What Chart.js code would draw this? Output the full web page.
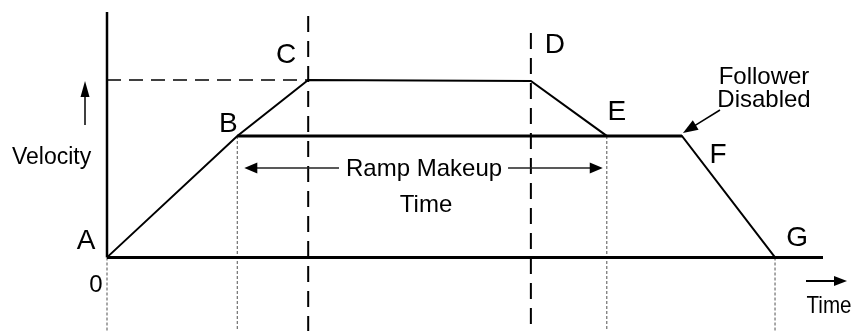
<!DOCTYPE html>
<html>
<head>
<meta charset="utf-8">
<script src="https://cdn.jsdelivr.net/npm/chart.js@4.4.1/dist/chart.umd.min.js"></script>
<style>
  html, body { margin: 0; padding: 0; background: #fff; }
  #wrap { width: 857px; height: 331px; }
</style>
</head>
<body>
<div id="wrap"><canvas id="chart" width="857" height="331"></canvas></div>
<script>
// profile points (time 0..100, velocity 0..100)
const pointNames = ["A", "B", "C", "D", "E", "F", "G"];
const pointTime = [0, 18.2, 28.1, 59.2, 69.8, 80.3, 93.3];
const pointVel = [0, 49.5, 72.3, 71.9, 49.5, 49.5, 0];

// axis extents
const timeMax = 100;
const velMax = 100;
const velMin = -30;

// top ends of the dashed C / D markers
const cLineTop = 98.4;
const dLineTop = 91.4;

const FONT = "'Liberation Sans', Arial, Helvetica, sans-serif";

function pts(idx) {
  return idx.map((i) => ({ x: pointTime[i], y: pointVel[i] }));
}

function seg(x1, y1, x2, y2) {
  return [{ x: x1, y: y1 }, { x: x2, y: y2 }];
}

const base = {
  showLine: true,
  pointRadius: 0,
  fill: false,
  clip: false,
  tension: 0,
  borderColor: "#000",
  borderJoinStyle: "miter",
};

const datasets = [
  // axes
  { ...base, data: seg(0, 0, timeMax, 0), borderWidth: 3 },
  { ...base, data: seg(0, 0, 0, velMax), borderWidth: 2.5 },
  // master profile A-B-C-D-E-F-G
  { ...base, data: pts([0, 1, 2, 3, 4, 5, 6]), borderWidth: 2 },
  // follower plateau B..F
  { ...base, data: pts([1, 5]), borderWidth: 3 },
  // dashed references
  { ...base, data: seg(0, pointVel[2], pointTime[2], pointVel[2]), borderWidth: 1.6, borderDash: [14, 8] },
  { ...base, data: seg(pointTime[2], cLineTop, pointTime[2], velMin), borderWidth: 2, borderDash: [16, 9] },
  { ...base, data: seg(pointTime[3], dLineTop, pointTime[3], velMin), borderWidth: 2, borderDash: [16, 9] },
  // dotted drop lines
  ...[0, 1, 4, 6].map((i) => ({
    ...base,
    data: seg(pointTime[i], pointVel[i], pointTime[i], velMin),
    borderWidth: 1.2,
    borderColor: "#6f6f6f",
    borderDash: [3, 2],
  })),
];

// label offsets in px from each point (center x, baseline y)
const labelOffsets = [
  [-21, -8], [-9, -4], [-22, -17], [24, -28], [10, -16], [36, 27], [22, -11],
];

function arrowHead(ctx, x1, y1, x2, y2, len, half) {
  const a = Math.atan2(y2 - y1, x2 - x1);
  ctx.beginPath();
  ctx.moveTo(x2, y2);
  ctx.lineTo(x2 - len * Math.cos(a) + half * Math.sin(a), y2 - len * Math.sin(a) - half * Math.cos(a));
  ctx.lineTo(x2 - len * Math.cos(a) - half * Math.sin(a), y2 - len * Math.sin(a) + half * Math.cos(a));
  ctx.closePath();
  ctx.fill();
}

function arrow(ctx, x1, y1, x2, y2, w, len, half) {
  const a = Math.atan2(y2 - y1, x2 - x1);
  ctx.lineWidth = w;
  ctx.beginPath();
  ctx.moveTo(x1, y1);
  ctx.lineTo(x2 - len * 0.8 * Math.cos(a), y2 - len * 0.8 * Math.sin(a));
  ctx.stroke();
  arrowHead(ctx, x1, y1, x2, y2, len, half);
}

const annotations = {
  id: "annotations",
  afterDatasetsDraw(chart) {
    const ctx = chart.ctx;
    const xs = chart.scales.x;
    const ys = chart.scales.y;
    const px = (i) => xs.getPixelForValue(pointTime[i]);
    const py = (i) => ys.getPixelForValue(pointVel[i]);
    ctx.save();
    ctx.fillStyle = "#000";
    ctx.strokeStyle = "#000";
    ctx.textBaseline = "alphabetic";

    // point letters
    ctx.font = "28px " + FONT;
    ctx.textAlign = "center";
    pointNames.forEach((n, i) => {
      ctx.fillText(n, px(i) + labelOffsets[i][0], py(i) + labelOffsets[i][1]);
    });

    // axis texts
    ctx.font = "23px " + FONT;
    ctx.textAlign = "left";
    ctx.fillText("Velocity", 12, 164);
    ctx.textAlign = "center";
    ctx.font = "24px " + FONT;
    ctx.fillText("0", px(0) - 11, ys.getPixelForValue(0) + 35);
    ctx.fillText("Time", 829, 313, 45);
    arrow(ctx, 85, 125, 85, 81, 1.5, 16, 4.5);
    arrow(ctx, 806, 281, 847, 281, 2, 13, 5);

    // ramp makeup span
    const ay = 168;
    const xl = px(1) + 7;
    const xr = px(4) - 4;
    const mid = (xl + xr) / 2 + 0.5;
    ctx.font = "24px " + FONT;
    ctx.fillText("Ramp Makeup", mid, 176);
    ctx.fillText("Time", mid + 2, 212);
    ctx.strokeStyle = "#222";
    ctx.fillStyle = "#000";
    arrow(ctx, mid - 85, ay, xl, ay, 1.3, 13, 5.5);
    arrow(ctx, mid + 84, ay, xr, ay, 1.3, 13, 5.5);

    // follower disabled note
    ctx.strokeStyle = "#000";
    ctx.fillText("Follower", 764, 84);
    ctx.fillText("Disabled", 764, 107);
    arrow(ctx, 720, 110, px(5) + 1, py(5) - 3, 1.5, 15, 5.5);

    ctx.restore();
  },
};

new Chart(document.getElementById("chart"), {
  type: "scatter",
  data: { datasets },
  options: {
    responsive: false,
    animation: false,
    devicePixelRatio: 1,
    layout: { padding: { left: 107, right: 34, top: 12, bottom: 0 } },
    plugins: { legend: { display: false }, tooltip: { enabled: false } },
    scales: {
      x: { type: "linear", min: 0, max: timeMax, display: false },
      y: { type: "linear", min: velMin, max: velMax, display: false },
    },
  },
  plugins: [annotations],
});
</script>
</body>
</html>
